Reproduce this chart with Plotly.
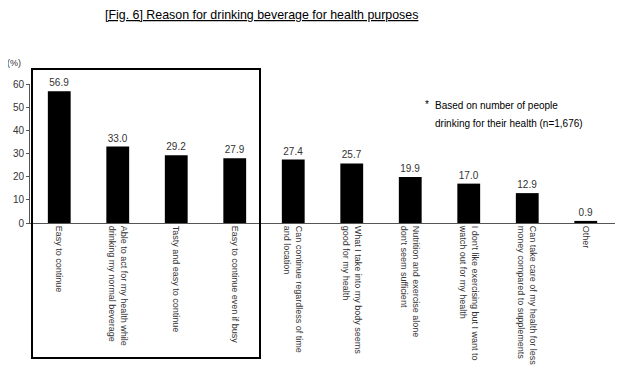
import plotly.graph_objects as go

categories = [
    "Easy to continue",
    "Able to act for my health while<br>drinking my normal beverage",
    "Tasty and easy to continue",
    "Easy to continue even if busy",
    "Can continue regardless of time<br>and location",
    "What I take into my body seems<br>good for my health",
    "Nutrition and exercise alone<br>don't seem sufficient",
    "I don't like exercising but I want to<br>watch out for my health",
    "Can take care of my health for less<br>money compared to supplements",
    "Other",
]
values = [56.9, 33.0, 29.2, 27.9, 27.4, 25.7, 19.9, 17.0, 12.9, 0.9]
y_ticks = [0, 10, 20, 30, 40, 50, 60]

FONT = "Liberation Sans, Arial, sans-serif"
OFF = 8  # page body margin
FW, FH = 623 - OFF, 375 - OFF
L, T, W, H = 30 - OFF, 84 - OFF, 585, 139

fig = go.Figure()
fig.add_trace(go.Bar(
    x=list(range(len(categories))),
    y=values,
    marker=dict(color="black", line=dict(width=0)),
    width=0.39,
    text=[f"{v:.1f}" for v in values],
    textposition="outside",
    cliponaxis=False,
    textfont=dict(family=FONT, size=10, color="#333333"),
))

fig.update_layout(
    width=FW, height=FH,
    margin=dict(l=L, r=FW - L - W, t=T, b=FH - T - H, autoexpand=False),
    paper_bgcolor="white", plot_bgcolor="white",
    showlegend=False,
    font=dict(family=FONT, size=10, color="#333333"),
)
fig.update_xaxes(
    tickmode="array",
    tickvals=list(range(len(categories))),
    ticktext=categories,
    tickangle=90,
    range=[-0.5, len(categories) - 0.5],
    showline=True, linecolor="#555555", linewidth=1,
    ticks="", showgrid=False, zeroline=False, automargin=False,
    tickfont=dict(family=FONT, size=9, color="#333333"),
)
fig.update_yaxes(
    range=[0, 60],
    tickvals=y_ticks,
    showline=True, linecolor="#555555", linewidth=1,
    ticks="outside", ticklen=3, tickcolor="#555555",
    showgrid=False, zeroline=False, automargin=False,
    tickfont=dict(family=FONT, size=10, color="#333333"),
)

def px(xp):
    return (xp - OFF - L) / W

def py(yp):
    return 1 - (yp - OFF - T) / H

# Highlight box around first four categories
fig.add_shape(type="rect", xref="paper", yref="paper",
              x0=px(32), x1=px(260), y0=py(358), y1=py(69),
              line=dict(color="black", width=2), fillcolor="rgba(0,0,0,0)")

fig.add_annotation(text="<u>[Fig. 6] Reason for drinking beverage for health purposes</u>",
                   xref="paper", yref="paper", x=px(261), y=py(15),
                   showarrow=False, xanchor="center", yanchor="middle",
                   font=dict(family=FONT, size=12.4, color="black"))
fig.add_annotation(text="(%)", xref="paper", yref="paper",
                   x=px(14), y=py(63),
                   showarrow=False, xanchor="center", yanchor="middle",
                   font=dict(family=FONT, size=9, color="#333333"))
fig.add_annotation(text="*", xref="paper", yref="paper",
                   x=px(427), y=py(104),
                   showarrow=False, xanchor="center", yanchor="middle",
                   font=dict(family=FONT, size=10, color="black"))
fig.add_annotation(text="Based on number of people", xref="paper", yref="paper",
                   x=px(433), y=py(105),
                   showarrow=False, xanchor="left", yanchor="middle",
                   font=dict(family=FONT, size=10, color="black"))
fig.add_annotation(text="drinking for their health (n=1,676)", xref="paper", yref="paper",
                   x=px(433), y=py(123),
                   showarrow=False, xanchor="left", yanchor="middle",
                   font=dict(family=FONT, size=10, color="black"))

fig.write_html("out.html")
